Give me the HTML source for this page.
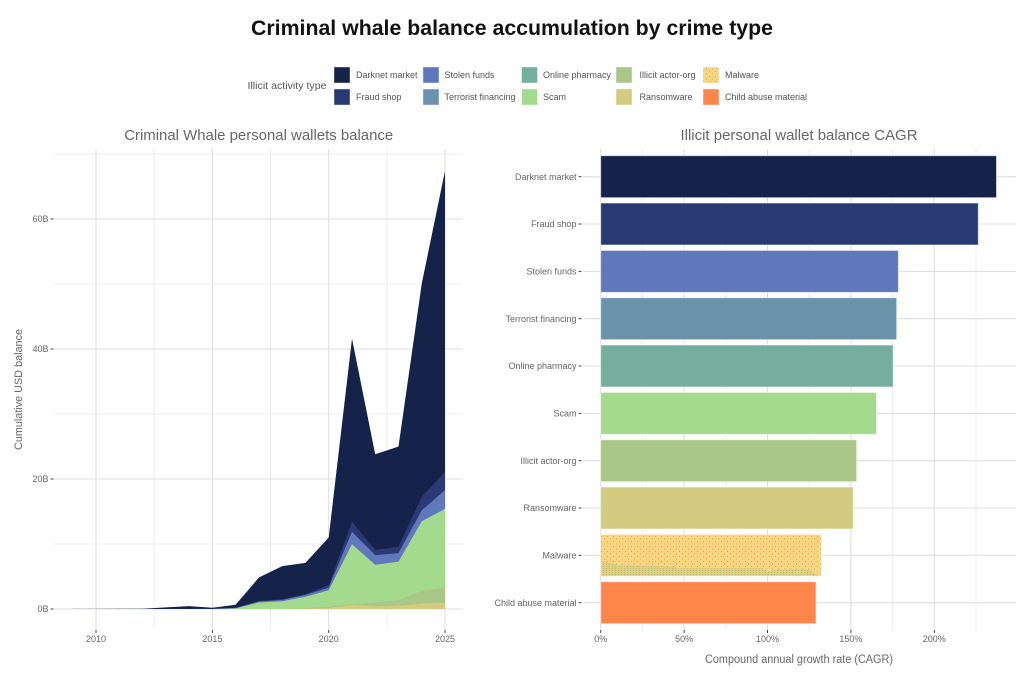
<!DOCTYPE html>
<html>
<head>
<meta charset="utf-8">
<style>
html,body{margin:0;padding:0;background:#fff;}
svg{display:block;}
text{font-family:"Liberation Sans",Arial,sans-serif;}
</style>
</head>
<body>
<svg width="1024" height="680" viewBox="0 0 1024 680" xmlns="http://www.w3.org/2000/svg">
<defs>
  <pattern id="dotsSparse" width="6" height="5" patternUnits="userSpaceOnUse">
    <rect width="6" height="5" fill="#FDD37E"/>
    <rect x="1" y="1" width="1" height="1" fill="#9fc07e"/>
    <rect x="4" y="3.5" width="1" height="1" fill="#9fc07e"/>
  </pattern>
  <pattern id="dotsDense" width="3" height="2" patternUnits="userSpaceOnUse">
    <rect width="3" height="2" fill="#e4ce7b"/>
    <rect x="0" y="0" width="1" height="1" fill="#b2c47f"/>
  </pattern>
</defs>
<rect width="1024" height="680" fill="#fff"/>

<!-- Main title -->
<text x="512" y="35" text-anchor="middle" font-size="21" font-weight="bold" fill="#111" textLength="522" lengthAdjust="spacingAndGlyphs">Criminal whale balance accumulation by crime type</text>

<!-- Legend -->
<text x="247.5" y="89" font-size="10" fill="#555" textLength="79" lengthAdjust="spacingAndGlyphs">Illicit activity type</text>
<g font-size="9" fill="#555">
  <rect x="334" y="67" width="16" height="16" fill="#152249" stroke="#fff" stroke-opacity="0.5" stroke-width="0.8"/>
  <text x="356" y="78.2">Darknet market</text>
  <rect x="334" y="89" width="16" height="16" fill="#283A73" stroke="#fff" stroke-opacity="0.5" stroke-width="0.8"/>
  <text x="356" y="100.2">Fraud shop</text>

  <rect x="423" y="67" width="16" height="16" fill="#6177BC" stroke="#fff" stroke-opacity="0.5" stroke-width="0.8"/>
  <text x="444.5" y="78.2">Stolen funds</text>
  <rect x="423" y="89" width="16" height="16" fill="#6A92AB" stroke="#fff" stroke-opacity="0.5" stroke-width="0.8"/>
  <text x="444.5" y="100.2">Terrorist financing</text>

  <rect x="521.5" y="67" width="16" height="16" fill="#76AE9E" stroke="#fff" stroke-opacity="0.5" stroke-width="0.8"/>
  <text x="543" y="78.2">Online pharmacy</text>
  <rect x="521.5" y="89" width="16" height="16" fill="#A4DA8E" stroke="#fff" stroke-opacity="0.5" stroke-width="0.8"/>
  <text x="543" y="100.2">Scam</text>

  <rect x="616" y="67" width="16" height="16" fill="#A9C888" stroke="#fff" stroke-opacity="0.5" stroke-width="0.8"/>
  <text x="639.5" y="78.2">Illicit actor-org</text>
  <rect x="616" y="89" width="16" height="16" fill="#D4CB80" stroke="#fff" stroke-opacity="0.5" stroke-width="0.8"/>
  <text x="639.5" y="100.2">Ransomware</text>

  <rect x="703" y="67" width="16" height="16" fill="url(#dotsSparse)" stroke="#fff" stroke-opacity="0.5" stroke-width="0.8"/>
  <text x="725" y="78.2">Malware</text>
  <rect x="703" y="89" width="16" height="16" fill="#FF864A" stroke="#fff" stroke-opacity="0.5" stroke-width="0.8"/>
  <text x="725" y="100.2">Child abuse material</text>
</g>

<!-- ================= LEFT CHART ================= -->
<text x="258.7" y="140" text-anchor="middle" font-size="15" fill="#666" textLength="269" lengthAdjust="spacingAndGlyphs">Criminal Whale personal wallets balance</text>

<!-- grid minor -->
<g stroke="#ececec" stroke-width="1">
  <line x1="54" y1="544" x2="463" y2="544"/>
  <line x1="54" y1="414" x2="463" y2="414"/>
  <line x1="54" y1="284" x2="463" y2="284"/>
  <line x1="54" y1="154" x2="463" y2="154"/>
  <line x1="154.2" y1="149" x2="154.2" y2="630"/>
  <line x1="270.5" y1="149" x2="270.5" y2="630"/>
  <line x1="386.9" y1="149" x2="386.9" y2="630"/>
</g>
<!-- grid major -->
<g stroke="#dcdcdc" stroke-width="1">
  <line x1="54" y1="609" x2="463" y2="609"/>
  <line x1="54" y1="479" x2="463" y2="479"/>
  <line x1="54" y1="349" x2="463" y2="349"/>
  <line x1="54" y1="219" x2="463" y2="219"/>
  <line x1="96" y1="149" x2="96" y2="630"/>
  <line x1="212.4" y1="149" x2="212.4" y2="630"/>
  <line x1="328.7" y1="149" x2="328.7" y2="630"/>
  <line x1="445" y1="149" x2="445" y2="630"/>
</g>

<!-- stacked areas -->
<path d="M72.7,609 L72.7,608.9 96,608.9 119.3,608.8 142.5,608.7 165.8,607.4 189.1,606.1 212.4,607.7 235.6,604.8 258.9,577.5 282.2,566.1 305.4,562.9 328.7,537.5 352,338.6 375.2,454.3 398.5,446.5 421.8,283.4 445,170.9 445,609 Z" fill="#152249"/>
<path d="M72.7,609 L165.8,608.9 189.1,608.7 212.4,608.7 235.6,607.7 258.9,600.9 282.2,599.3 305.4,594.1 328.7,585 352,521.9 375.2,549.9 398.5,546.6 421.8,496.6 445,471.9 445,609 Z" fill="#2B3A75"/>
<path d="M72.7,609 L212.4,609 235.6,608 258.9,601.5 282.2,599.9 305.4,595 328.7,587.6 352,531.7 375.2,555.1 398.5,553.1 421.8,510.2 445,490.1 445,609 Z" fill="#6278BD"/>
<path d="M72.7,609 L212.4,609 235.6,608.4 258.9,602.5 282.2,601.2 305.4,596.7 328.7,590.2 352,544.3 375.2,564.8 398.5,561.6 421.8,521.3 445,508.9 445,609 Z" fill="#A4DA8E"/>
<path d="M282.2,609 L305.4,608.4 328.7,606.7 352,603.8 375.2,602.5 398.5,599.9 421.8,590.8 445,587.6 445,609 Z" fill="#A9C888"/>
<path d="M282.2,609 L305.4,608.7 328.7,608 352,605.1 375.2,606.1 398.5,605.8 421.8,603.5 445,602.8 445,609 Z" fill="#D4CB80"/>

<!-- left axes ticks -->
<g stroke="#444" stroke-width="1">
  <line x1="50.5" y1="609" x2="53.5" y2="609"/>
  <line x1="50.5" y1="479" x2="53.5" y2="479"/>
  <line x1="50.5" y1="349" x2="53.5" y2="349"/>
  <line x1="50.5" y1="219" x2="53.5" y2="219"/>
  <line x1="96" y1="630" x2="96" y2="633"/>
  <line x1="212.4" y1="630" x2="212.4" y2="633"/>
  <line x1="328.7" y1="630" x2="328.7" y2="633"/>
  <line x1="445" y1="630" x2="445" y2="633"/>
</g>
<g font-size="9" fill="#666" text-anchor="end">
  <text x="48.5" y="612.2">0B</text>
  <text x="48.5" y="482.2">20B</text>
  <text x="48.5" y="352.2">40B</text>
  <text x="48.5" y="222.2">60B</text>
</g>
<g font-size="9" fill="#666" text-anchor="middle">
  <text x="96" y="642.2">2010</text>
  <text x="212.4" y="642.2">2015</text>
  <text x="328.7" y="642.2">2020</text>
  <text x="445" y="642.2">2025</text>
</g>
<text transform="translate(22,389.5) rotate(-90)" text-anchor="middle" font-size="11" fill="#666" textLength="121" lengthAdjust="spacingAndGlyphs">Cumulative USD balance</text>

<!-- ================= RIGHT CHART ================= -->
<text x="799" y="140" text-anchor="middle" font-size="15" fill="#666" textLength="237" lengthAdjust="spacingAndGlyphs">Illicit personal wallet balance CAGR</text>

<!-- grid minor -->
<g stroke="#ececec" stroke-width="1">
  <line x1="642.4" y1="149" x2="642.4" y2="630"/>
  <line x1="725.8" y1="149" x2="725.8" y2="630"/>
  <line x1="809.2" y1="149" x2="809.2" y2="630"/>
  <line x1="892.6" y1="149" x2="892.6" y2="630"/>
  <line x1="976" y1="149" x2="976" y2="630"/>
</g>
<g stroke="#dcdcdc" stroke-width="1">
  <line x1="600.7" y1="149" x2="600.7" y2="630"/>
  <line x1="684.1" y1="149" x2="684.1" y2="630"/>
  <line x1="767.5" y1="149" x2="767.5" y2="630"/>
  <line x1="850.9" y1="149" x2="850.9" y2="630"/>
  <line x1="934.3" y1="149" x2="934.3" y2="630"/>
  <line x1="582.5" y1="176.7" x2="1016" y2="176.7"/>
  <line x1="582.5" y1="224" x2="1016" y2="224"/>
  <line x1="582.5" y1="271.4" x2="1016" y2="271.4"/>
  <line x1="582.5" y1="318.7" x2="1016" y2="318.7"/>
  <line x1="582.5" y1="366" x2="1016" y2="366"/>
  <line x1="582.5" y1="413.4" x2="1016" y2="413.4"/>
  <line x1="582.5" y1="460.7" x2="1016" y2="460.7"/>
  <line x1="582.5" y1="508" x2="1016" y2="508"/>
  <line x1="582.5" y1="555.3" x2="1016" y2="555.3"/>
  <line x1="582.5" y1="602.7" x2="1016" y2="602.7"/>
</g>

<!-- bars -->
<g stroke="#ffffff" stroke-opacity="0.55" stroke-width="1">
  <rect x="600.7" y="155.7" width="395.8" height="42" fill="#152249"/>
  <rect x="600.7" y="203" width="377.6" height="42" fill="#283A73"/>
  <rect x="600.7" y="250.4" width="297.7" height="42" fill="#6177BC"/>
  <rect x="600.7" y="297.7" width="296" height="42" fill="#6A92AB"/>
  <rect x="600.7" y="345" width="292.5" height="42" fill="#76AE9E"/>
  <rect x="600.7" y="392.4" width="275.8" height="42" fill="#A4DA8E"/>
  <rect x="600.7" y="439.7" width="256" height="42" fill="#A9C888"/>
  <rect x="600.7" y="487" width="252.6" height="42" fill="#D4CB80"/>
  <rect x="600.7" y="534.3" width="220.6" height="42" fill="url(#dotsSparse)"/>
  <rect x="600.7" y="581.7" width="215.3" height="42" fill="#FF864A"/>
</g>
<path d="M601.5,560.7 L606.7,562.3 618,565 675,566.7 676.7,568.3 763,568.3 768,571.7 776.7,569.3 808,569.3 816.7,574.3 818,575.8 601.5,575.8 Z" fill="url(#dotsDense)"/>

<!-- right ticks -->
<g stroke="#444" stroke-width="1">
  <line x1="578.5" y1="176.7" x2="581.5" y2="176.7"/>
  <line x1="578.5" y1="224" x2="581.5" y2="224"/>
  <line x1="578.5" y1="271.4" x2="581.5" y2="271.4"/>
  <line x1="578.5" y1="318.7" x2="581.5" y2="318.7"/>
  <line x1="578.5" y1="366" x2="581.5" y2="366"/>
  <line x1="578.5" y1="413.4" x2="581.5" y2="413.4"/>
  <line x1="578.5" y1="460.7" x2="581.5" y2="460.7"/>
  <line x1="578.5" y1="508" x2="581.5" y2="508"/>
  <line x1="578.5" y1="555.3" x2="581.5" y2="555.3"/>
  <line x1="578.5" y1="602.7" x2="581.5" y2="602.7"/>
  <line x1="600.7" y1="630" x2="600.7" y2="633"/>
  <line x1="684.1" y1="630" x2="684.1" y2="633"/>
  <line x1="767.5" y1="630" x2="767.5" y2="633"/>
  <line x1="850.9" y1="630" x2="850.9" y2="633"/>
  <line x1="934.3" y1="630" x2="934.3" y2="633"/>
</g>
<g font-size="9" fill="#666" text-anchor="end">
  <text x="576.5" y="179.9">Darknet market</text>
  <text x="576.5" y="227.2">Fraud shop</text>
  <text x="576.5" y="274.6">Stolen funds</text>
  <text x="576.5" y="321.9">Terrorist financing</text>
  <text x="576.5" y="369.2">Online pharmacy</text>
  <text x="576.5" y="416.6">Scam</text>
  <text x="576.5" y="463.9">Illicit actor-org</text>
  <text x="576.5" y="511.2">Ransomware</text>
  <text x="576.5" y="558.5">Malware</text>
  <text x="576.5" y="605.9">Child abuse material</text>
</g>
<g font-size="9" fill="#666" text-anchor="middle">
  <text x="600.7" y="642.2">0%</text>
  <text x="684.1" y="642.2">50%</text>
  <text x="767.5" y="642.2">100%</text>
  <text x="850.9" y="642.2">150%</text>
  <text x="934.3" y="642.2">200%</text>
</g>
<text x="799" y="663" text-anchor="middle" font-size="11.5" fill="#666" textLength="188" lengthAdjust="spacingAndGlyphs">Compound annual growth rate (CAGR)</text>
</svg>
</body>
</html>
